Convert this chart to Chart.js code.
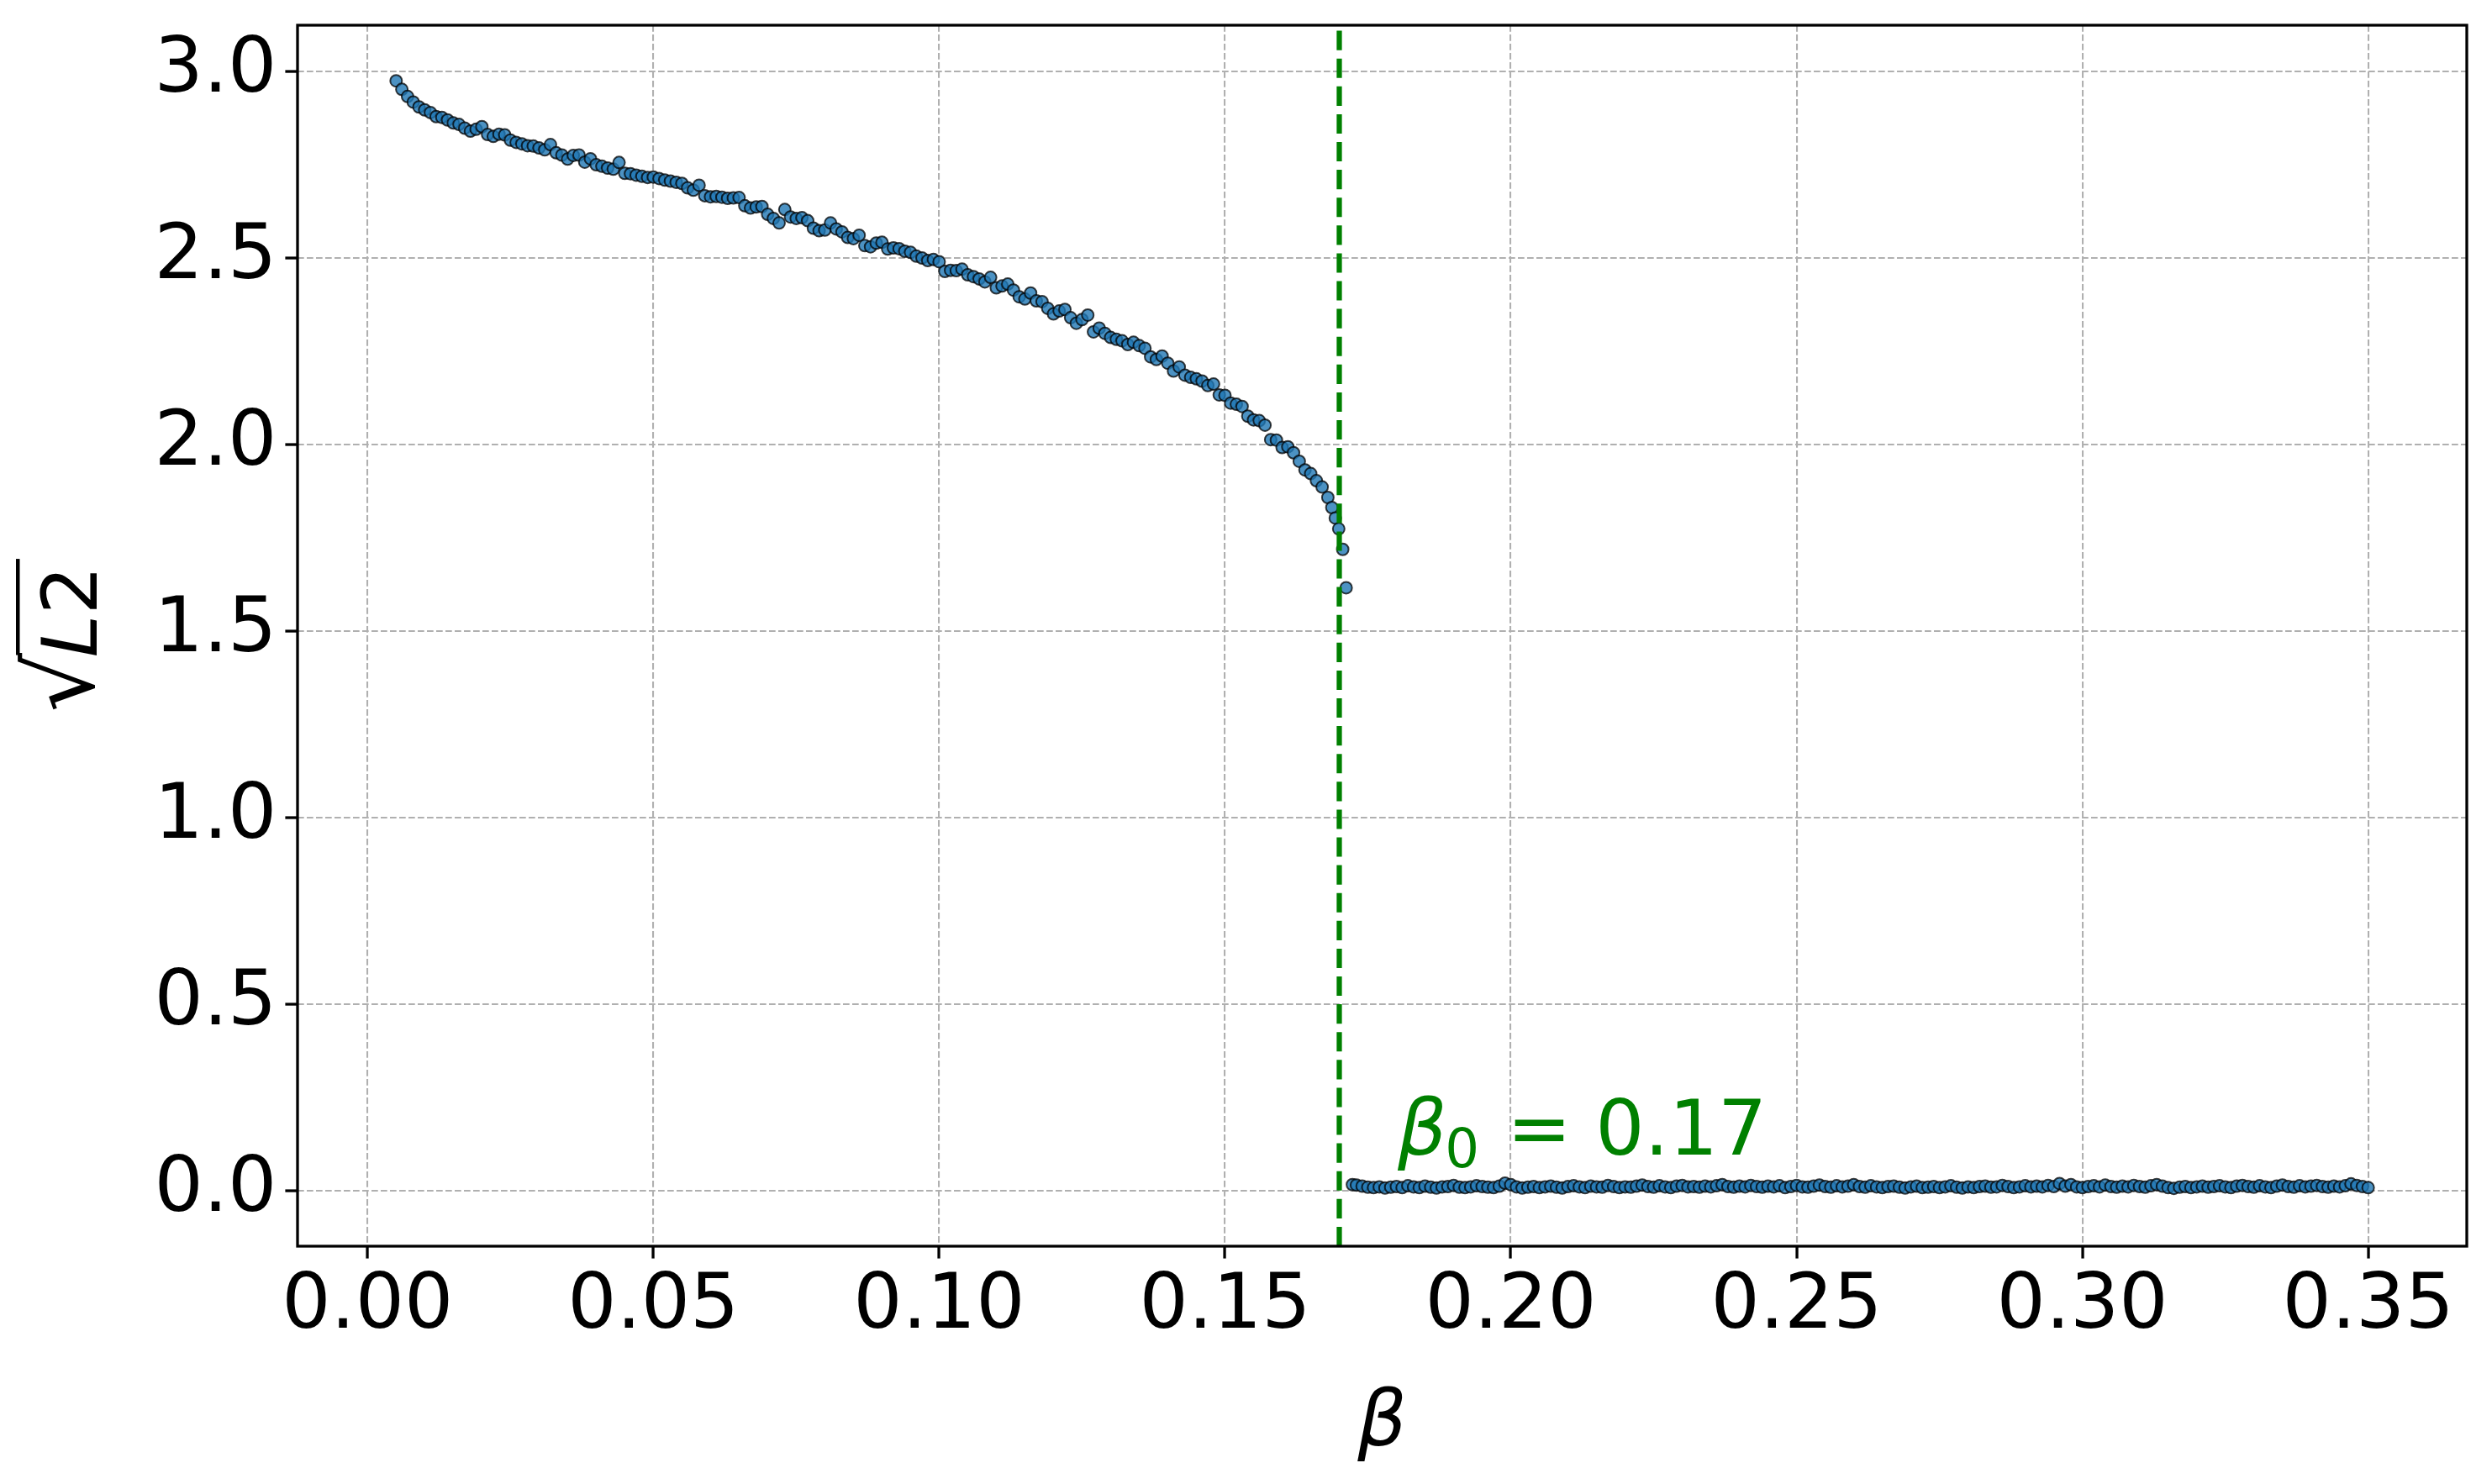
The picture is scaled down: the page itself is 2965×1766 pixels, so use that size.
<!DOCTYPE html>
<html>
<head>
<meta charset="utf-8">
<script src="https://cdn.jsdelivr.net/npm/chart.js@4.4.1/dist/chart.umd.min.js"></script>
<style>
  html, body { margin: 0; padding: 0; background: #ffffff; }
  canvas { display: block; }
</style>
</head>
<body>
<canvas id="c" width="2965" height="1766" style="width:2965px;height:1766px"></canvas>
<script>
// ---- data ----
const beta = [
  0.005,0.006,0.007,0.008,0.009,0.010,0.011,0.012,0.013,0.014,
  0.015,0.016,0.017,0.018,0.019,0.020,0.021,0.022,0.023,0.024,
  0.025,0.026,0.027,0.028,0.029,0.030,0.031,0.032,0.033,0.034,
  0.035,0.036,0.037,0.038,0.039,0.040,0.041,0.042,0.043,0.044,
  0.045,0.046,0.047,0.048,0.049,0.050,0.051,0.052,0.053,0.054,
  0.055,0.056,0.057,0.058,0.059,0.060,0.061,0.062,0.063,0.064,
  0.065,0.066,0.067,0.068,0.069,0.070,0.071,0.072,0.073,0.074,
  0.075,0.076,0.077,0.078,0.079,0.080,0.081,0.082,0.083,0.084,
  0.085,0.086,0.087,0.088,0.089,0.090,0.091,0.092,0.093,0.094,
  0.095,0.096,0.097,0.098,0.099,0.100,0.101,0.102,0.103,0.104,
  0.105,0.106,0.107,0.108,0.109,0.110,0.111,0.112,0.113,0.114,
  0.115,0.116,0.117,0.118,0.119,0.120,0.121,0.122,0.123,0.124,
  0.125,0.126,0.127,0.128,0.129,0.130,0.131,0.132,0.133,0.134,
  0.135,0.136,0.137,0.138,0.139,0.140,0.141,0.142,0.143,0.144,
  0.145,0.146,0.147,0.148,0.149,0.150,0.151,0.152,0.153,0.154,
  0.155,0.156,0.157,0.158,0.159,0.160,0.161,0.162,0.163,0.164,
  0.165,0.166,0.167,0.168,0.1687,0.1693,0.1699,0.1706,0.1712,0.1723,
  0.173,0.174,0.175,0.176,0.177,0.178,0.179,0.180,0.181,0.182,
  0.183,0.184,0.185,0.186,0.187,0.188,0.189,0.190,0.191,0.192,
  0.193,0.194,0.195,0.196,0.197,0.198,0.199,0.200,0.201,0.202,
  0.203,0.204,0.205,0.206,0.207,0.208,0.209,0.210,0.211,0.212,
  0.213,0.214,0.215,0.216,0.217,0.218,0.219,0.220,0.221,0.222,
  0.223,0.224,0.225,0.226,0.227,0.228,0.229,0.230,0.231,0.232,
  0.233,0.234,0.235,0.236,0.237,0.238,0.239,0.240,0.241,0.242,
  0.243,0.244,0.245,0.246,0.247,0.248,0.249,0.250,0.251,0.252,
  0.253,0.254,0.255,0.256,0.257,0.258,0.259,0.260,0.261,0.262,
  0.263,0.264,0.265,0.266,0.267,0.268,0.269,0.270,0.271,0.272,
  0.273,0.274,0.275,0.276,0.277,0.278,0.279,0.280,0.281,0.282,
  0.283,0.284,0.285,0.286,0.287,0.288,0.289,0.290,0.291,0.292,
  0.293,0.294,0.295,0.296,0.297,0.298,0.299,0.300,0.301,0.302,
  0.303,0.304,0.305,0.306,0.307,0.308,0.309,0.310,0.311,0.312,
  0.313,0.314,0.315,0.316,0.317,0.318,0.319,0.320,0.321,0.322,
  0.323,0.324,0.325,0.326,0.327,0.328,0.329,0.330,0.331,0.332,
  0.333,0.334,0.335,0.336,0.337,0.338,0.339,0.340,0.341,0.342,
  0.343,0.344,0.345,0.346,0.347,0.348,0.349,0.350
];
const sqrtL2 = [
  2.975,2.952,2.933,2.918,2.905,2.897,2.890,2.879,2.877,2.870,
  2.862,2.858,2.848,2.840,2.845,2.852,2.831,2.826,2.832,2.830,
  2.816,2.810,2.806,2.801,2.800,2.795,2.790,2.804,2.782,2.776,
  2.765,2.775,2.776,2.757,2.766,2.750,2.746,2.741,2.738,2.756,
  2.727,2.726,2.722,2.719,2.716,2.717,2.713,2.709,2.706,2.703,
  2.700,2.688,2.682,2.695,2.667,2.664,2.665,2.663,2.660,2.661,
  2.662,2.640,2.634,2.637,2.638,2.617,2.606,2.594,2.630,2.610,
  2.606,2.608,2.600,2.580,2.573,2.575,2.594,2.578,2.570,2.555,
  2.552,2.561,2.533,2.530,2.540,2.542,2.524,2.527,2.525,2.518,
  2.515,2.505,2.500,2.493,2.496,2.490,2.464,2.467,2.466,2.470,
  2.455,2.450,2.444,2.436,2.448,2.420,2.425,2.430,2.414,2.396,
  2.390,2.406,2.385,2.383,2.365,2.350,2.358,2.362,2.340,2.325,
  2.335,2.347,2.302,2.312,2.298,2.287,2.282,2.278,2.268,2.274,
  2.265,2.258,2.235,2.228,2.237,2.218,2.197,2.208,2.186,2.180,
  2.176,2.170,2.158,2.162,2.133,2.132,2.111,2.108,2.102,2.076,
  2.066,2.064,2.052,2.013,2.012,1.992,1.994,1.978,1.955,1.932,
  1.922,1.903,1.886,1.858,1.831,1.803,1.774,1.719,1.616,0.016,
  0.015,0.012,0.009,0.008,0.010,0.007,0.009,0.011,0.008,0.013,
  0.010,0.008,0.012,0.009,0.007,0.010,0.011,0.014,0.009,0.008,
  0.010,0.013,0.011,0.009,0.008,0.012,0.020,0.016,0.010,0.007,
  0.009,0.011,0.008,0.010,0.012,0.009,0.007,0.011,0.013,0.010,
  0.008,0.012,0.010,0.009,0.014,0.011,0.008,0.010,0.009,0.012,
  0.015,0.011,0.009,0.013,0.010,0.008,0.012,0.014,0.010,0.011,
  0.009,0.012,0.010,0.013,0.016,0.011,0.009,0.012,0.010,0.014,
  0.011,0.009,0.012,0.010,0.013,0.008,0.011,0.014,0.010,0.009,
  0.012,0.015,0.011,0.009,0.013,0.010,0.012,0.016,0.011,0.009,
  0.013,0.010,0.008,0.011,0.012,0.009,0.007,0.010,0.012,0.008,
  0.009,0.011,0.008,0.010,0.013,0.009,0.007,0.010,0.008,0.011,
  0.012,0.009,0.010,0.014,0.011,0.008,0.010,0.013,0.010,0.012,
  0.010,0.014,0.011,0.019,0.012,0.016,0.010,0.008,0.011,0.013,
  0.010,0.015,0.011,0.009,0.012,0.010,0.014,0.011,0.009,0.013,
  0.016,0.012,0.008,0.006,0.009,0.011,0.008,0.010,0.012,0.009,
  0.011,0.013,0.010,0.008,0.012,0.014,0.011,0.009,0.013,0.010,
  0.008,0.012,0.015,0.011,0.009,0.013,0.010,0.012,0.014,0.011,
  0.009,0.012,0.010,0.013,0.018,0.014,0.011,0.008
];
const xTickValues = [0.00, 0.05, 0.10, 0.15, 0.20, 0.25, 0.30, 0.35];
const yTickValues = [0.0, 0.5, 1.0, 1.5, 2.0, 2.5, 3.0];
const betaZero = 0.17;
const annotationAt = { x: 0.18, y: 0.1 };
const xLabel = 'β';

// ---- styling ----
const FONT = '"DejaVu Sans", "Liberation Sans", sans-serif';
const FS = 91.7;
const GREEN = '#008000';

const points = beta.map((b, i) => ({ x: b, y: sqrtL2[i] }));

const framePlugin = {
  id: 'frame',
  beforeDraw(chart) {
    const c = chart.ctx;
    c.save();
    c.fillStyle = '#ffffff';
    c.fillRect(0, 0, chart.width, chart.height);
    c.restore();
  },
  afterDatasetsDraw(chart) {
    const c = chart.ctx, a = chart.chartArea;
    // vertical dashed line at beta_0
    const px = chart.scales.x.getPixelForValue(betaZero);
    c.save();
    c.strokeStyle = GREEN;
    c.lineWidth = 6.25;
    c.setLineDash([23.1, 10]);
    c.beginPath();
    c.moveTo(px, a.bottom);
    c.lineTo(px, a.top);
    c.stroke();
    c.restore();

    // axes frame
    c.save();
    c.strokeStyle = '#000';
    c.lineWidth = 3.3;
    c.strokeRect(a.left, a.top, a.right - a.left, a.bottom - a.top);
    c.restore();

    // annotation  β0 = 0.17
    const ax = chart.scales.x.getPixelForValue(annotationAt.x);
    const ay = chart.scales.y.getPixelForValue(annotationAt.y);
    c.save();
    c.fillStyle = GREEN;
    c.textBaseline = 'alphabetic';
    c.textAlign = 'left';
    const ink = (txt, font, left, base) => {
      c.font = font;
      const m = c.measureText(txt);
      c.fillText(txt, left + m.actualBoundingBoxLeft, base);
    };
    ink('β', 'italic ' + FS + 'px ' + FONT, ax + 0.5, ay + 1.5);
    ink('0', (FS * 0.7) + 'px ' + FONT, ax + 61.7, ay + 16.5);
    ink('=', FS + 'px ' + FONT, ax + 140.4, ay + 1.5);
    ink(betaZero.toFixed(2), FS + 'px ' + FONT, ax + 242.7, ay + 1.5);
    c.restore();
  },
  afterDraw(chart) {
    // y-axis title: sqrt(L2), drawn rotated
    const c = chart.ctx;
    const a = chart.chartArea;
    const mid = (a.top + a.bottom) / 2;
    c.save();
    c.translate(115, mid + 90);
    c.rotate(-Math.PI / 2);
    c.fillStyle = '#000';
    c.textBaseline = 'alphabetic';
    c.textAlign = 'left';
    // radical sign sized to the reference height
    c.font = '100px ' + FONT;
    let m = c.measureText('√');
    const h = m.actualBoundingBoxAscent + m.actualBoundingBoxDescent;
    const fsR = 100 * 94 / h;
    c.font = fsR + 'px ' + FONT;
    m = c.measureText('√');
    const gx = 2 + m.actualBoundingBoxLeft;
    const gy = -94 + m.actualBoundingBoxAscent;
    c.fillText('√', gx, gy);
    const rightU = gx + m.actualBoundingBoxRight;
    c.font = 'italic ' + FS + 'px ' + FONT;
    const startL = 64;
    c.fillText('L', startL, 0);
    const wL = c.measureText('L').width;
    c.font = FS + 'px ' + FONT;
    c.fillText('2', startL + wL, 0);
    const w2 = c.measureText('2').width;
    const endU = startL + wL + w2 + 8;
    c.fillRect(rightU - 3, -96, endU - rightU + 3, 4.5);
    c.restore();
  }
};

new Chart(document.getElementById('c'), {
  type: 'scatter',
  data: {
    datasets: [{
      data: points,
      pointRadius: 7,
      pointHoverRadius: 7,
      pointBorderWidth: 2,
      backgroundColor: 'rgba(31,119,180,0.8)',
      borderColor: 'rgba(0,0,0,0.75)'
    }]
  },
  options: {
    responsive: false,
    animation: false,
    devicePixelRatio: 1,
    events: [],
    layout: { padding: { top: 30, right: 30, left: 0, bottom: 0 } },
    plugins: { legend: { display: false }, tooltip: { enabled: false } },
    scales: {
      x: {
        type: 'linear',
        min: -0.01225,
        max: 0.36725,
        afterFit: s => { s.height = 283; s.paddingLeft = 0; s.paddingRight = 0; s.paddingTop = 0; s.paddingBottom = 0; },
        afterBuildTicks: s => { s.ticks = xTickValues.map(v => ({ value: v })); },
        ticks: {
          stepSize: 0.05,
          includeBounds: false,
          autoSkip: false,
          maxRotation: 0,
          padding: 4,
          color: '#000',
          font: { family: FONT, size: FS },
          callback: v => Number(v).toFixed(2)
        },
        grid: {
          color: '#b0b0b0',
          lineWidth: 2.08,
          drawTicks: true,
          tickLength: 14.6,
          tickColor: '#000',
          tickWidth: 3.3,
          tickBorderDash: []
        },
        border: { display: false, dash: [7.7, 3.3] },
        title: {
          display: true,
          text: xLabel,
          color: '#000',
          font: { family: FONT, size: FS, style: 'italic' },
          padding: { top: 0, bottom: 15 }
        }
      },
      y: {
        type: 'linear',
        min: -0.149,
        max: 3.124,
        afterFit: s => { s.width = 354; s.paddingLeft = 0; s.paddingRight = 0; s.paddingTop = 0; s.paddingBottom = 0; },
        afterBuildTicks: s => { s.ticks = yTickValues.map(v => ({ value: v })); },
        ticks: {
          stepSize: 0.5,
          includeBounds: false,
          autoSkip: false,
          padding: 10,
          color: '#000',
          font: { family: FONT, size: FS },
          callback: v => Number(v).toFixed(1)
        },
        grid: {
          color: '#b0b0b0',
          lineWidth: 2.08,
          drawTicks: true,
          tickLength: 14.6,
          tickColor: '#000',
          tickWidth: 3.3,
          tickBorderDash: []
        },
        border: { display: false, dash: [7.7, 3.3] },
        title: { display: false }
      }
    }
  },
  plugins: [framePlugin]
});
</script>
</body>
</html>
